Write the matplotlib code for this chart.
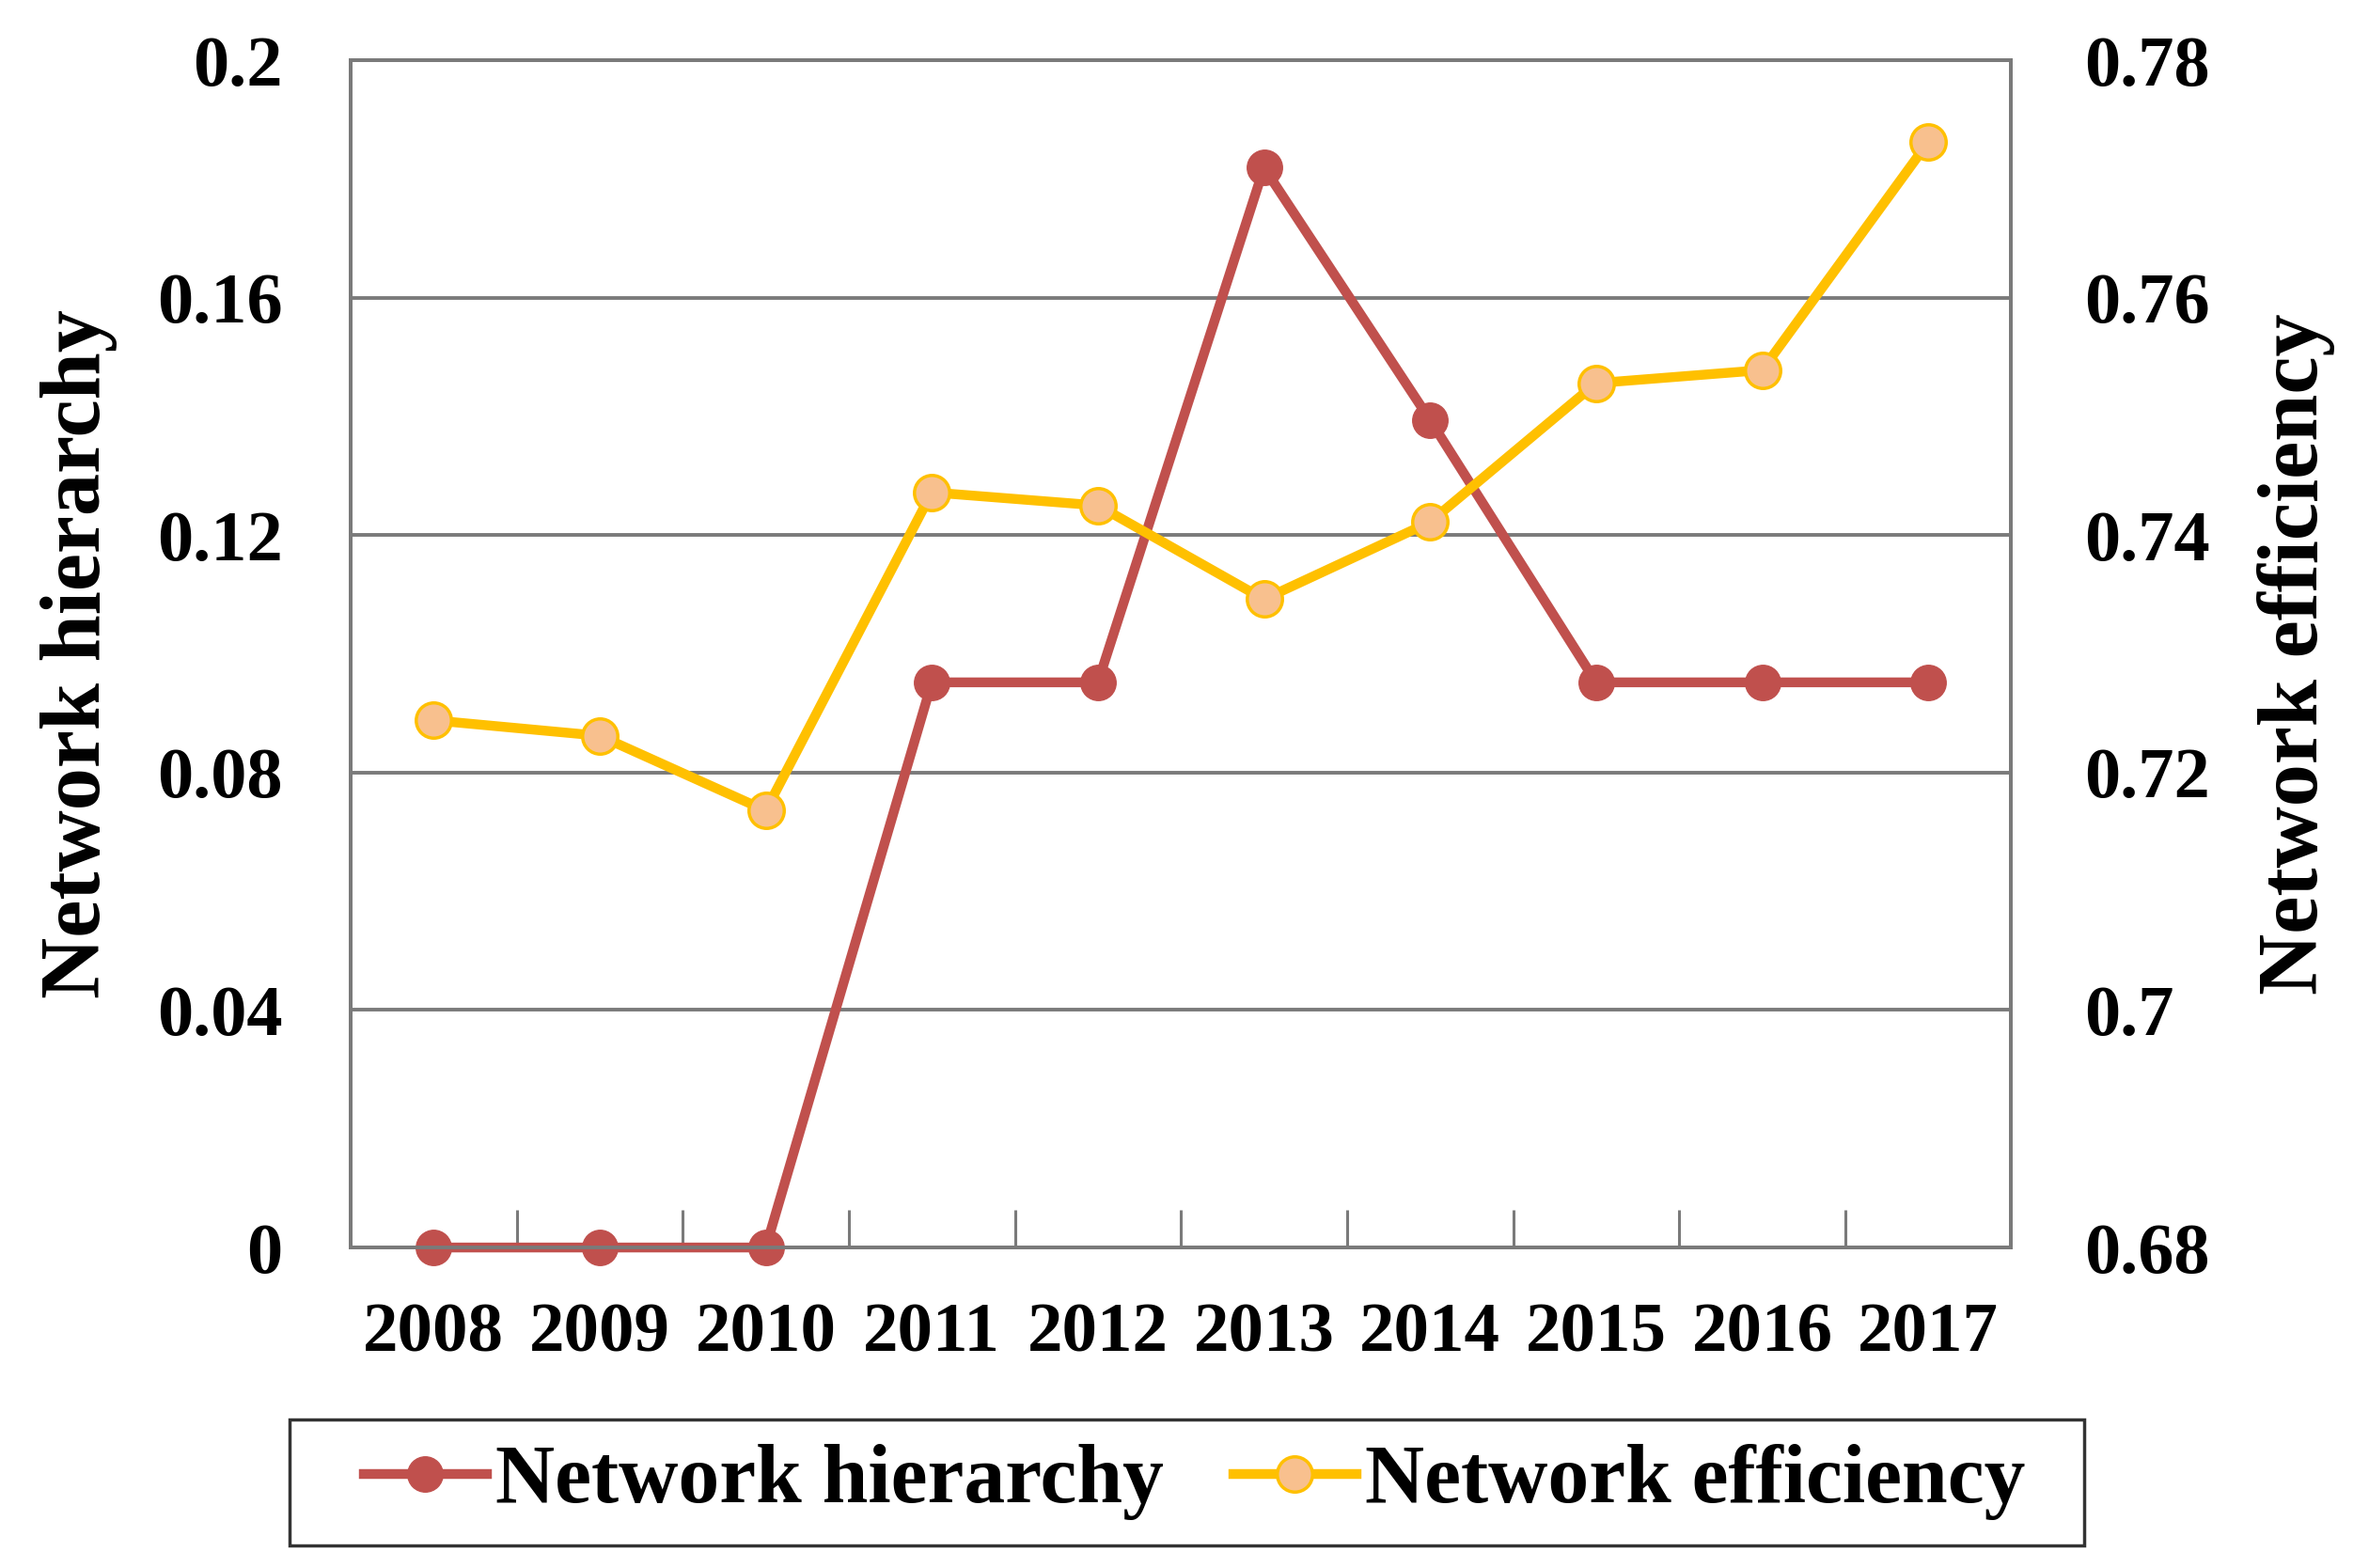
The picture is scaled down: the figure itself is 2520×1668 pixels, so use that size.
import numpy as np
import matplotlib.pyplot as plt
from matplotlib.ticker import FixedLocator
from matplotlib.patches import Rectangle

years = ["2008", "2009", "2010", "2011", "2012", "2013", "2014", "2015", "2016", "2017"]
hierarchy = [0.0, 0.0, 0.0, 0.0952, 0.0952, 0.1819, 0.1394, 0.0952, 0.0952, 0.0952]
efficiency = [0.7244, 0.7231, 0.7168, 0.7436, 0.7425, 0.7346, 0.7411, 0.7528, 0.7539, 0.7731]

left_ticks = [0, 0.04, 0.08, 0.12, 0.16, 0.2]
left_labels = ["0", "0.04", "0.08", "0.12", "0.16", "0.2"]
right_ticks = [0.68, 0.70, 0.72, 0.74, 0.76, 0.78]
right_labels = ["0.68", "0.7", "0.72", "0.74", "0.76", "0.78"]

plt.rcParams['font.family'] = ['Liberation Serif', 'DejaVu Serif']
plt.rcParams['font.weight'] = 'bold'

red = "#C0504D"
yellow = "#FFC000"
peach = "#F8C08E"
gray = "#7A7A7A"

fig = plt.figure(figsize=(25.2, 16.68), dpi=100)
ax1 = fig.add_axes([0.148, 0.2044, 0.701, 0.7572])
ax2 = ax1.twinx()

x = np.arange(len(years))

#grid first so lines sit on top
for v in left_ticks[1:-1]:
    ax1.axhline(v, color=gray, lw=2.8, zorder=0)

l1, = ax1.plot(x, hierarchy, color=red, lw=7.5, marker="o", markersize=27,
               markerfacecolor=red, markeredgecolor=red, label="Network hierarchy",
               solid_joinstyle="round", clip_on=False, zorder=3)
l2, = ax2.plot(x, efficiency, color=yellow, lw=7.5, marker="o", markersize=27,
               markerfacecolor=peach, markeredgecolor=yellow, markeredgewidth=2.5,
               label="Network efficiency", solid_joinstyle="round", clip_on=False, zorder=3)

ax1.set_xlim(-0.5, len(years) - 0.5)
ax1.set_ylim(0, 0.2)
ax2.set_ylim(0.68, 0.78)

ax1.set_yticks(left_ticks)
ax1.set_yticklabels(left_labels)
ax2.set_yticks(right_ticks)
ax2.set_yticklabels(right_labels)
ax1.set_xticks(x)
ax1.set_xticklabels(years)
ax1.xaxis.set_minor_locator(FixedLocator(np.arange(0.5, len(years) - 1, 1.0)))

ax1.tick_params(axis="x", which="major", length=0, pad=42, labelsize=54)
ax1.tick_params(axis="x", which="minor", direction="in", length=29, width=2.2, color=gray)
ax1.tick_params(axis="y", length=0, pad=52, labelsize=55)
ax2.tick_params(axis="y", length=0, pad=56, labelsize=55)

for ax in (ax1, ax2):
    for s in ax.spines.values():
        s.set_color(gray)
        s.set_linewidth(2.8)

ax1.set_ylabel("Network hierarchy", fontsize=65, fontweight="bold", labelpad=30)
ax2.set_ylabel("Network efficiency", fontsize=65, fontweight="bold", rotation=90, labelpad=36)

leg = ax1.legend(handles=[l1, l2], loc="upper center", bbox_to_anchor=(0.508, -0.145),
                 ncol=2, fontsize=63, frameon=False, handlelength=1.5,
                 handletextpad=0.1, columnspacing=0.85, borderpad=0.3, borderaxespad=0)

# box around the legend, wider on the sides like the original
fig.canvas.draw()
bb = leg.get_window_extent()
W, H = fig.bbox.width, fig.bbox.height
padx = 52
box = Rectangle(((bb.x0 - padx) / W, bb.y0 / H), (bb.width + 2 * padx - 15) / W, bb.height / H,
                transform=fig.transFigure, fill=False, edgecolor="#333333", lw=2.5)
fig.add_artist(box)

fig.savefig("out.png", dpi=100)
